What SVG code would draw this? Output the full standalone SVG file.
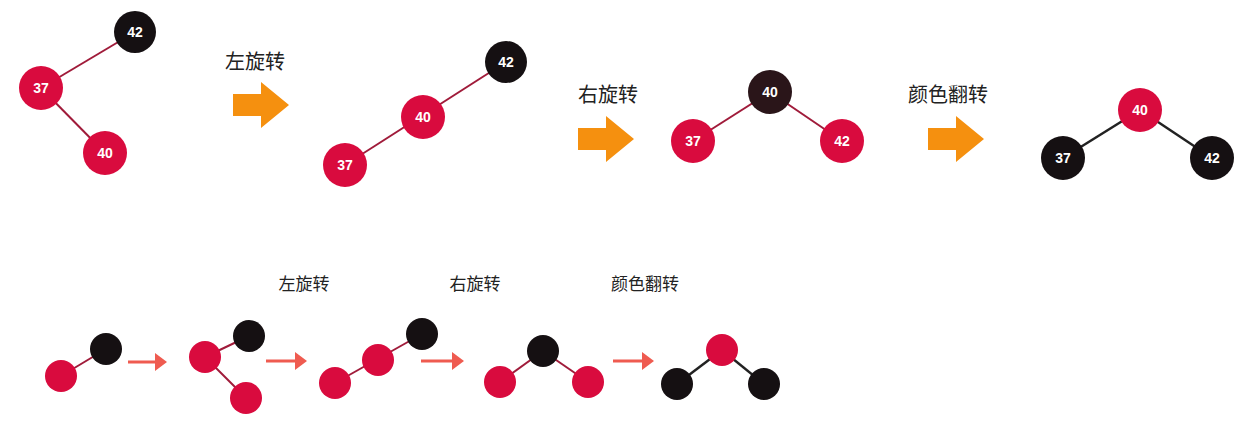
<svg xmlns="http://www.w3.org/2000/svg" width="1241" height="425" viewBox="0 0 1241 425">
<style>
.r{fill:#d90b3e}.b{fill:#151012}
.t{font-family:"Liberation Sans",Arial,sans-serif;font-weight:bold;font-size:14px;fill:#fff;text-anchor:middle;dominant-baseline:central}
.l{font-family:"Noto Sans CJK SC",sans-serif;font-size:20px;fill:#222;text-anchor:middle}
.s{font-family:"Noto Sans CJK SC",sans-serif;font-size:17px;fill:#222;text-anchor:middle}
.e{stroke:#a01b3a;stroke-width:2}.k{stroke:#222;stroke-width:2.5}
.oa{fill:#f5900f}.pa{stroke:#ef5b50;stroke-width:3}
</style>
<defs><marker id="m" markerWidth="6" markerHeight="6" refX="3" refY="3" orient="auto" markerUnits="strokeWidth"><path d="M0,0L4,3L0,6z" fill="#ef5b50"/></marker></defs>
<rect width="1241" height="425" fill="#fff"/>
<g id="connectors">
<line class="e" x1="135" y1="32" x2="41" y2="88"/><line class="e" x1="41" y1="88" x2="105" y2="153"/>
<line class="e" x1="506" y1="62" x2="345" y2="165"/>
<line class="e" x1="693" y1="141" x2="770" y2="92"/><line class="e" x1="770" y1="92" x2="842" y2="141"/>
<line class="k" x1="1063" y1="158" x2="1140" y2="110"/><line class="k" x1="1140" y1="110" x2="1212" y2="158"/>
<path class="oa" d="M233,94h28v-12l28,23l-28,23v-12h-28z"/>
<path class="oa" d="M578,128h28v-12l28,23l-28,23v-12h-28z"/>
<path class="oa" d="M928,128h28v-12l28,23l-28,23v-12h-28z"/>
<line class="e" x1="61" y1="376" x2="106" y2="349"/>
<line class="e" x1="205" y1="357" x2="249" y2="336"/><line class="e" x1="205" y1="357" x2="246" y2="398"/>
<line class="e" x1="335" y1="383" x2="422" y2="334"/>
<line class="e" x1="500" y1="382" x2="543" y2="351"/><line class="e" x1="543" y1="351" x2="588" y2="382"/>
<line class="k" x1="677" y1="384" x2="722" y2="350"/><line class="k" x1="722" y1="350" x2="764" y2="384"/>
<line class="pa" x1="128" y1="362" x2="164" y2="362" marker-end="url(#m)"/>
<line class="pa" x1="266" y1="361" x2="304" y2="361" marker-end="url(#m)"/>
<line class="pa" x1="421" y1="361" x2="461" y2="361" marker-end="url(#m)"/>
<line class="pa" x1="613" y1="361" x2="651" y2="361" marker-end="url(#m)"/>
</g>
<text class="l" x="255" y="69">左旋转</text>
<text class="l" x="608" y="102">右旋转</text>
<text class="l" x="948" y="102">颜色翻转</text>
<text class="s" x="304" y="290">左旋转</text>
<text class="s" x="475" y="290">右旋转</text>
<text class="s" x="645" y="290">颜色翻转</text>
<g id="t1n42"><circle class="b" cx="135" cy="32" r="21"/><text class="t" x="135" y="32">42</text></g>
<g id="t1n37"><circle class="r" cx="41" cy="88" r="22"/><text class="t" x="41" y="88">37</text></g>
<g id="t1n40"><circle class="r" cx="105" cy="153" r="22"/><text class="t" x="105" y="153">40</text></g>
<g id="t2n42"><circle class="b" cx="506" cy="62" r="21"/><text class="t" x="506" y="62">42</text></g>
<g id="t2n40"><circle class="r" cx="423" cy="117" r="22"/><text class="t" x="423" y="117">40</text></g>
<g id="t2n37"><circle class="r" cx="345" cy="165" r="22"/><text class="t" x="345" y="165">37</text></g>
<g id="t3n40"><circle fill="#2a1519" cx="770" cy="92" r="22"/><text class="t" x="770" y="92">40</text></g>
<g id="t3n37"><circle class="r" cx="693" cy="141" r="22"/><text class="t" x="693" y="141">37</text></g>
<g id="t3n42"><circle class="r" cx="842" cy="141" r="22"/><text class="t" x="842" y="141">42</text></g>
<g id="t4n40"><circle class="r" cx="1140" cy="110" r="22"/><text class="t" x="1140" y="110">40</text></g>
<g id="t4n37"><circle class="b" cx="1063" cy="158" r="22"/><text class="t" x="1063" y="158">37</text></g>
<g id="t4n42"><circle class="b" cx="1212" cy="158" r="22"/><text class="t" x="1212" y="158">42</text></g>
<g id="s1"><circle class="r" cx="61" cy="376" r="16"/><circle class="b" cx="106" cy="349" r="16"/></g>
<g id="s2"><circle class="r" cx="205" cy="357" r="16"/><circle class="b" cx="249" cy="336" r="16"/><circle class="r" cx="246" cy="398" r="16"/></g>
<g id="s3"><circle class="r" cx="335" cy="383" r="16"/><circle class="r" cx="378" cy="360" r="16"/><circle class="b" cx="422" cy="334" r="16"/></g>
<g id="s4"><circle class="b" cx="543" cy="351" r="16"/><circle class="r" cx="500" cy="382" r="16"/><circle class="r" cx="588" cy="382" r="16"/></g>
<g id="s5"><circle class="r" cx="722" cy="350" r="16"/><circle class="b" cx="677" cy="384" r="16"/><circle class="b" cx="764" cy="384" r="16"/></g>
</svg>
